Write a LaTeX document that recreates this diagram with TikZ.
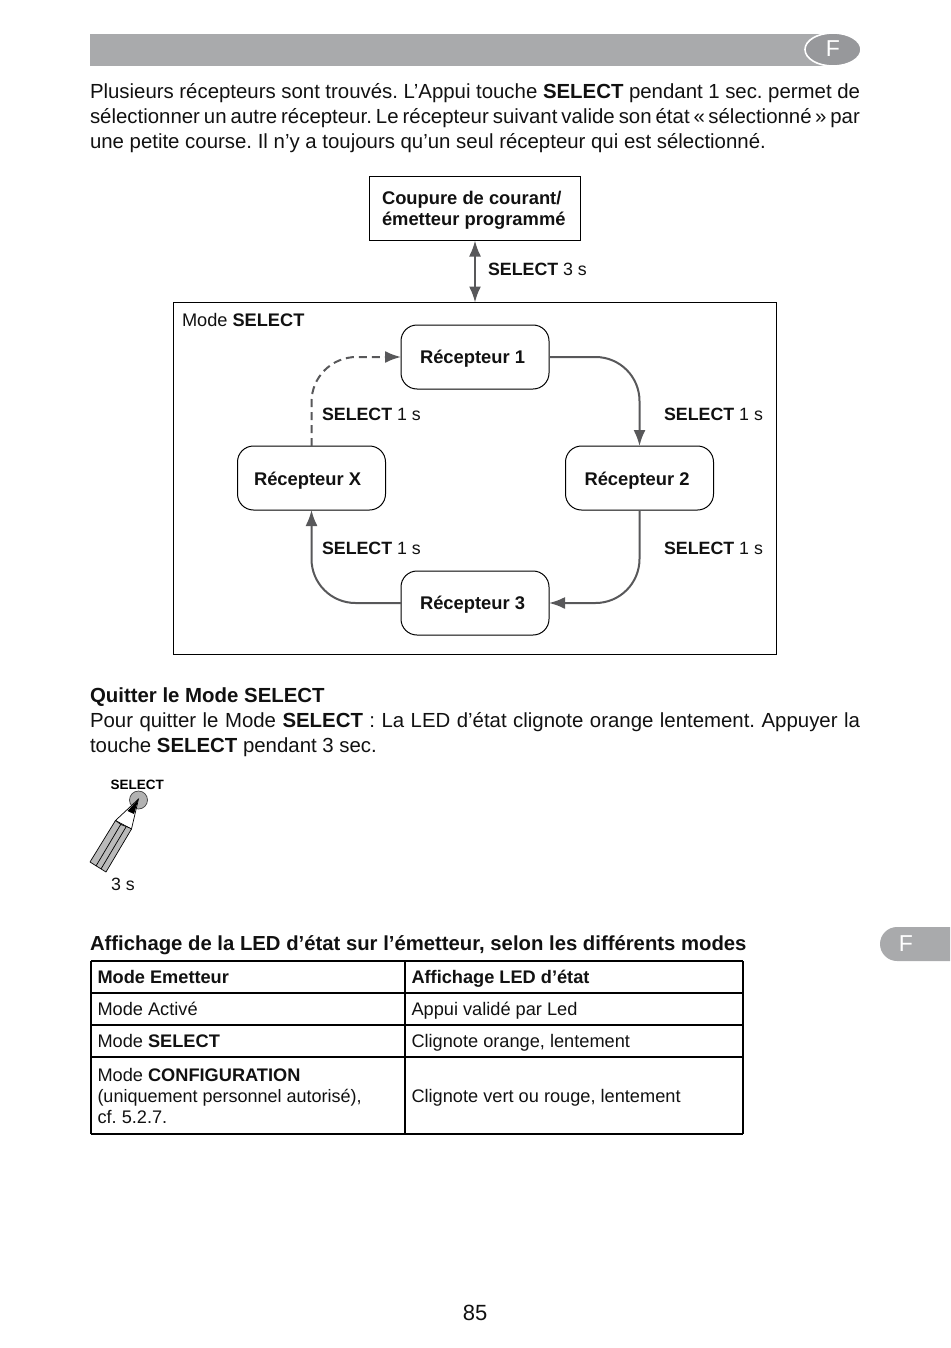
\documentclass[tikz,border=0pt]{standalone}
\usepackage{fontspec}
\usetikzlibrary{arrows.meta,shapes.geometric}
\setmainfont{Liberation Sans}
\frenchspacing
\definecolor{band}{HTML}{A9AAAC}
\definecolor{oval}{HTML}{97989B}
\definecolor{conn}{HTML}{58585A}
\definecolor{ink}{HTML}{111111}
\newcommand{\bodyfont}{\fontsize{20.4}{25}\selectfont}
\newcommand{\figfont}{\fontsize{17.8}{21}\selectfont}
\newcommand{\figbold}{\fontsize{18.35}{21}\selectfont\bfseries}
\newcommand{\tabfont}{\fontsize{18.2}{21}\selectfont}
\newcommand{\jline}[1]{\makebox[770pt][s]{#1}}
\tikzset{
 x=1pt,y=-1pt,
 every node/.style={text=ink,inner sep=0pt,outer sep=0pt},
 bodyline/.style={anchor=base west,font=\bodyfont},
 figlabel/.style={anchor=base west,font=\figfont},
 tablabel/.style={anchor=base west,font=\tabfont},
 recbox/.style={draw=black,line width=1pt,rounded corners=16pt,minimum width=148pt,minimum height=64pt,anchor=center},
 reclabel/.style={anchor=base west,font=\figbold},
 sqbox/.style={draw=black,line width=0.9pt},
 link/.style={draw=conn,line width=2pt,rounded corners=44pt,-{Latex[length=16pt,width=12pt]}},
 tabrule/.style={draw=black,line width=2pt},
}
\begin{document}
\begin{tikzpicture}
\useasboundingbox (0,0) rectangle (950,1348);
% header band
\fill[band] (90,34) rectangle (830,66);
\node[ellipse,fill=oval,draw=white,line width=1.6pt,minimum width=56pt,minimum height=33pt] (ovalF) at (833,49.5) {};
\node[font=\fontsize{23}{23}\selectfont,text=white] (letF) at (833,49) {F};
% side tab
\fill[band] (950,927) -- (897,927) arc[start angle=270,end angle=90,radius=17] -- (950,961) -- cycle;
\node[font=\fontsize{23}{23}\selectfont,text=white] (sideF) at (906,943.5) {F};
% intro
\node[bodyline] (t1) at (90,99) {\jline{Plusieurs récepteurs sont trouvés. L’Appui touche \textbf{SELECT} pendant 1 sec. permet de}};
\node[bodyline] (t2) at (90,124) {\jline{sélectionner un autre récepteur. Le récepteur suivant valide son état «\,sélectionné\,» par}};
\node[bodyline] (t3) at (90,149) {une petite course. Il n’y a toujours qu’un seul récepteur qui est sélectionné.};
% diagram
\node[sqbox,minimum width=211pt,minimum height=64pt] (top) at (475,208.5) {};
\node[reclabel] (top1) at (382,205) {Coupure de courant/};
\node[reclabel] (top2) at (382,225.5) {émetteur programmé};
\node[sqbox,minimum width=603pt,minimum height=352pt] (mode) at (475,478.5) {};
\node[figlabel,font=\fontsize{18.2}{21}\selectfont] (modelab) at (182,326) {Mode \textbf{SELECT}};
\node[recbox] (r1) at (475,357) {};
\node[recbox] (r2) at (639.5,478) {};
\node[recbox] (r3) at (475,603) {};
\node[recbox] (rx) at (311.5,478) {};
\node[reclabel] (r1t) at (420,363) {Récepteur 1};
\node[reclabel] (r2t) at (584.5,485) {Récepteur 2};
\node[reclabel] (r3t) at (420,609) {Récepteur 3};
\node[reclabel] (rxt) at (254,485) {Récepteur X};
\draw[draw=conn,line width=2pt,{Latex[length=16pt,width=12pt]}-{Latex[length=16pt,width=12pt]}] (top.south) -- (mode.north);
\draw[link] (r1.east) -| (r2.north);
\draw[link] (r2.south) |- (r3.east);
\draw[link] (r3.west) -| (rx.south);
\draw[link,dashed,dash pattern=on 8pt off 5pt,rounded corners=45pt] (rx.north) |- (r1.west);
\node[figlabel] (l0) at (488,275) {\textbf{SELECT} 3 s};
\node[figlabel] (l1) at (322,420) {\textbf{SELECT} 1 s};
\node[figlabel] (l2) at (664,420) {\textbf{SELECT} 1 s};
\node[figlabel] (l3) at (322,554) {\textbf{SELECT} 1 s};
\node[figlabel] (l4) at (664,554) {\textbf{SELECT} 1 s};
% quit
\node[bodyline] (q0) at (90,702) {\textbf{Quitter le Mode SELECT}};
\node[bodyline] (q1) at (90,727) {\jline{Pour quitter le Mode \textbf{SELECT} : La LED d’état clignote orange lentement. Appuyer la}};
\node[bodyline] (q2) at (90,752) {touche \textbf{SELECT} pendant 3 sec.};
% pencil
\node[anchor=base west,font=\fontsize{13.5}{14}\selectfont\bfseries,text=black] (selkey) at (110.5,789) {SELECT};
\fill[fill=black!30,draw=black!75,line width=0.7pt] (138.5,800) circle[radius=9];
\draw[black,line width=0.7pt,fill=white] (138.5,799) -- (115.5,820.5) -- (131.5,829) -- cycle;
\fill[black] (138.5,799) -- (127.5,811) -- (134,814) -- cycle;
\draw[black,line width=0.7pt,fill=black!27,line join=round] (115.5,820.5) .. controls (119,823) and (120,824) .. (122,825) .. controls (125,826) and (128,827) .. (131.5,829) -- (106,872) -- (90,862) -- cycle;
\draw[black,line width=0.7pt] (121,824) -- (96,866) (126,827) -- (101,869);
\node[anchor=base west,font=\fontsize{17.8}{18}\selectfont] (sec3) at (111,890) {3 s};
% table
\node[bodyline,font=\fontsize{20.3}{25}\selectfont\bfseries] (tt) at (90,950) {Affichage de la LED d’état sur l’émetteur, selon les différents modes};
\coordinate (a0) at (91,961); \coordinate (b0) at (743,961);
\coordinate (a1) at (91,993); \coordinate (b1) at (743,993);
\coordinate (a2) at (91,1025); \coordinate (b2) at (743,1025);
\coordinate (a3) at (91,1057); \coordinate (b3) at (743,1057);
\coordinate (a4) at (91,1133.5); \coordinate (b4) at (743,1133.5);
\coordinate (c0) at (405,961); \coordinate (c4) at (405,1133.5);
\foreach \p/\q in {a0/b0,a1/b1,a2/b2,a3/b3,a4/b4,a0/a4,b0/b4,c0/c4} \draw[tabrule] (\p) -- (\q);
\node[tablabel] (c11) at (97.5,983) {\textbf{Mode Emetteur}};
\node[tablabel] (c12) at (411.5,983) {\textbf{Affichage LED d’état}};
\node[tablabel] (c21) at (97.5,1015) {Mode Activé};
\node[tablabel] (c22) at (411.5,1015) {Appui validé par Led};
\node[tablabel] (c31) at (97.5,1047) {Mode \textbf{SELECT}};
\node[tablabel] (c32) at (411.5,1047) {Clignote orange, lentement};
\node[tablabel] (c41) at (97.5,1081) {Mode \textbf{CONFIGURATION}};
\node[tablabel,font=\fontsize{18}{21}\selectfont] (c42) at (97.5,1102) {(uniquement personnel autorisé),};
\node[tablabel] (c43) at (97.5,1123) {cf. 5.2.7.};
\node[tablabel] (c44) at (411.5,1102) {Clignote vert ou rouge, lentement};
\node[anchor=base,font=\fontsize{22}{25}\selectfont] (pg) at (475,1320) {85};
\end{tikzpicture}
\end{document}
